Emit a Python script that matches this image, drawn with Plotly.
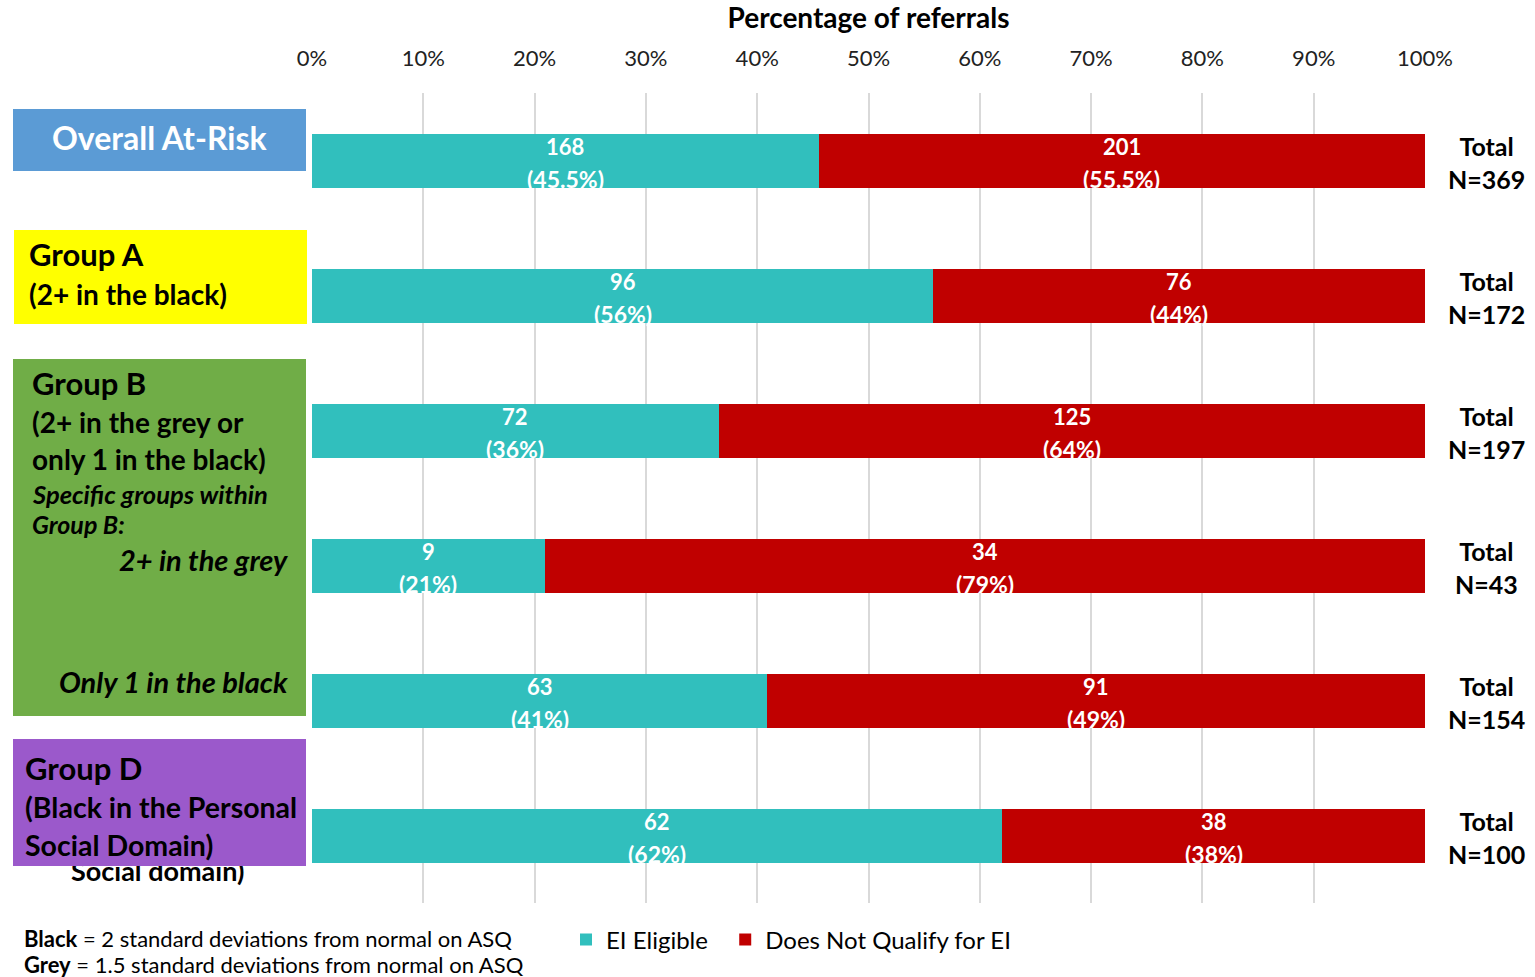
import plotly.graph_objects as go

# Referral outcomes by screening group
categories = ["Overall At-Risk", "Group A", "Group B", "2+ in the grey",
              "Only 1 in the black", "Group D"]
eligible = [168, 96, 72, 9, 63, 62]
not_qualify = [201, 76, 125, 34, 91, 38]
eligible_pct_labels = ["45.5%", "56%", "36%", "21%", "41%", "62%"]
not_qualify_pct_labels = ["55.5%", "44%", "64%", "79%", "49%", "38%"]
totals = [369, 172, 197, 43, 154, 100]
tick_vals = [0, 10, 20, 30, 40, 50, 60, 70, 80, 90, 100]
tick_text = ["0%", "10%", "20%", "30%", "40%", "50%", "60%", "70%", "80%", "90%", "100%"]

TEAL = "#31BFBD"
RED = "#C00000"
FONT = "Lato"

W, H = 1535, 977
L, R, T, B = 312, 110, 93, 74
PW, PH = W - L - R, H - T - B


def px(x):
    return (x - L) / PW


def py(y):
    return (H - B - y) / PH


fig = go.Figure()
fig.add_trace(go.Bar(y=categories, x=eligible, orientation="h",
                     name="EI Eligible\u00a0\u00a0",
                     marker=dict(color=TEAL, line=dict(width=0)), hoverinfo="skip"))
fig.add_trace(go.Bar(y=categories, x=not_qualify, orientation="h",
                     name="Does Not Qualify for EI",
                     marker=dict(color=RED, line=dict(width=0)), hoverinfo="skip"))

ann = []
# value labels centred in each segment
for cat, e, n, ep, npct, tot in zip(categories, eligible, not_qualify,
                                    eligible_pct_labels, not_qualify_pct_labels, totals):
    e_share = e / (e + n) * 100
    centres = [(e_share / 2, e, ep), (e_share + (100 - e_share) / 2, n, npct)]
    for cx, cnt, pct in centres:
        ann.append(dict(x=cx, y=cat, xref="x", yref="y", text=f"<b>{cnt}</b>",
                        showarrow=False, yshift=14,
                        font=dict(family=FONT, size=22, color="white")))
        ann.append(dict(x=cx, y=cat, xref="x", yref="y", text=f"<b>({pct})</b>",
                        showarrow=False, yshift=-18,
                        font=dict(family=FONT, size=23, color="white")))
    ann.append(dict(x=px(1486), y=cat, xref="paper", yref="y", xanchor="center",
                    text=f"<b>Total<br>N={tot}</b>", showarrow=False, yshift=-2,
                    align="center", font=dict(family=FONT, size=25, color="black")))

# text partly hidden beneath the Group D box
ann.append(dict(x=px(157), y=py(870), xref="paper", yref="paper", xanchor="center",
                yanchor="middle", text="<b>Social domain)</b>", showarrow=False,
                font=dict(family=FONT, size=27, color="black")))

# coloured group boxes
boxes = [(13, 109, 306, 171, "#5B9BD5"),
         (14, 230, 307, 324, "#FFFF00"),
         (13, 359, 306, 716, "#70AD47"),
         (13, 739, 306, 866, "#9B59CB")]
for x0, y0, x1, y1, col in boxes:
    ann.append(dict(x=px(x0), y=py(y0), xref="paper", yref="paper",
                    xanchor="left", yanchor="top", text=" ", showarrow=False,
                    width=x1 - x0, height=y1 - y0, bgcolor=col,
                    borderpad=0, borderwidth=0))


def label(text, x, y, size, anchor="left", color="black"):
    ann.append(dict(x=px(x), y=py(y), xref="paper", yref="paper", xanchor=anchor,
                    yanchor="middle", text=text, showarrow=False,
                    font=dict(family=FONT, size=size, color=color)))


label("<b>Overall At-Risk</b>", 159, 137, 32, "center", "white")
label("<b>Group A</b>", 27, 254, 31)
label("<b>(2+ in the black)</b>", 27, 294, 28)
label("<b>Group B</b>", 30, 383, 31)
label("<b>(2+ in the grey or</b>", 30, 422, 28)
label("<b>only 1 in the black)</b>", 30, 459, 28)
label("<b><i>Specific groups within</i></b>", 30, 494, 25.5)
label("<b><i>Group B:</i></b>", 30, 524, 25)
label("<b><i>2+ in the grey</i></b>", 290, 559, 29, "right")
label("<b><i>Only 1 in the black</i></b>", 290, 681, 29, "right")
label("<b>Group D</b>", 23, 768, 31)
label("<b>(Black in the Personal</b>", 23, 807, 28.5)
label("<b>Social Domain)</b>", 23, 845, 28.5)

# footnotes
label("<b>Black</b> = 2 standard deviations from normal on ASQ", 22, 938, 22)
label("<b>Grey</b> = 1.5 standard deviations from normal on ASQ", 22, 964, 22)

fig.update_layout(
    width=W, height=H,
    margin=dict(l=L, r=R, t=T, b=B),
    paper_bgcolor="white", plot_bgcolor="white",
    barmode="stack", barnorm="percent", bargap=0.6,
    font=dict(family=FONT, color="black"),
    annotations=ann,
    showlegend=True,
    legend=dict(orientation="h", x=px(566), y=py(940), xanchor="left",
                yanchor="middle", font=dict(family=FONT, size=24, color="black"),
                traceorder="normal", itemwidth=30),
    xaxis=dict(side="top", range=[0, 100], tickvals=tick_vals, ticktext=tick_text,
               showgrid=True, gridcolor="#D9D9D9", gridwidth=2, zeroline=False,
               showline=False, ticks="", ticklabelstandoff=22,
               tickfont=dict(family=FONT, size=22, color="#222222"),
               title=dict(text="<b>Percentage of referrals</b>", standoff=6,
                          font=dict(family=FONT, size=28, color="black"))),
    yaxis=dict(autorange="reversed", showticklabels=False, showgrid=False,
               zeroline=False),
)

fig.write_html("out.html")
